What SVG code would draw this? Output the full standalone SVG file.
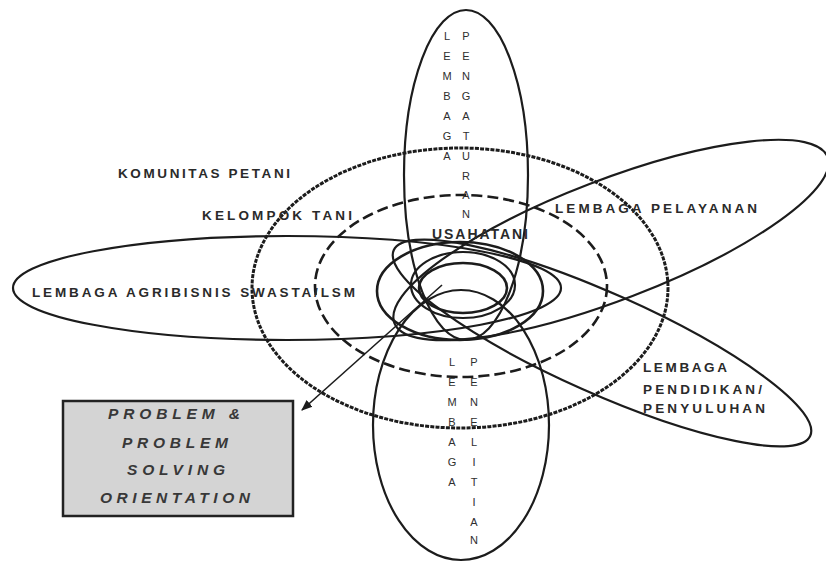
<svg xmlns="http://www.w3.org/2000/svg" width="826" height="562" viewBox="0 0 826 562">
<defs>
<style>
.ln{fill:none;stroke:#1c1c1c;stroke-width:2.2}
.dot{fill:none;stroke:#1c1c1c;stroke-width:3;stroke-dasharray:4 1.2}
.dash{fill:none;stroke:#1c1c1c;stroke-width:2.6;stroke-dasharray:11 5}
.lbl{font-family:"Liberation Sans",Arial,sans-serif;font-weight:bold;font-size:13.5px;fill:#2a2a2a}
.vt{font-family:"Liberation Sans",Arial,sans-serif;font-size:11px;fill:#2e2e2e;text-anchor:middle}
.bx{font-family:"Liberation Sans",Arial,sans-serif;font-weight:bold;font-style:italic;font-size:15.5px;fill:#383838}
</style>
<marker id="ah" viewBox="0 0 10 10" refX="9" refY="5" markerWidth="7" markerHeight="7" orient="auto">
<path d="M0,1 L10,5 L0,9 z" fill="#1c1c1c"/>
</marker>
</defs>
<rect width="826" height="562" fill="#fff"/>

<g id="komunitas-petani">
<ellipse class="dot" cx="460" cy="288" rx="208" ry="140"/>
<text class="lbl" x="118" y="178" textLength="172" lengthAdjust="spacing">KOMUNITAS PETANI</text>
</g>
<g id="kelompok-tani">
<ellipse class="dash" cx="461" cy="286" rx="146" ry="91"/>
<text class="lbl" x="202" y="220" textLength="150" lengthAdjust="spacing">KELOMPOK TANI</text>
</g>
<g id="lembaga-agribisnis">
<ellipse class="ln" cx="287" cy="288" rx="274" ry="52"/>
<text class="lbl" x="32" y="297" textLength="323" lengthAdjust="spacing">LEMBAGA AGRIBISNIS SWASTA/LSM</text>
</g>
<g id="lembaga-pelayanan">
<ellipse class="ln" cx="611" cy="240" rx="232" ry="60" transform="rotate(-21 611 240)"/>
<text class="lbl" x="555" y="213" textLength="202" lengthAdjust="spacing">LEMBAGA PELAYANAN</text>
</g>
<g id="lembaga-pendidikan">
<ellipse class="ln" cx="602" cy="343" rx="228" ry="50" transform="rotate(24 602 343)"/>
<text class="lbl" x="643" y="372" textLength="84" lengthAdjust="spacing">LEMBAGA</text>
<text class="lbl" x="643" y="394" textLength="119" lengthAdjust="spacing">PENDIDIKAN/</text>
<text class="lbl" x="643" y="413" textLength="122" lengthAdjust="spacing">PENYULUHAN</text>
</g>
<g id="lembaga-pengaturan">
<ellipse class="ln" cx="466" cy="175" rx="62" ry="165"/>
<text class="vt"><tspan x="447" y="40">L</tspan><tspan x="447" y="60">E</tspan><tspan x="447" y="80">M</tspan><tspan x="447" y="100">B</tspan><tspan x="447" y="120">A</tspan><tspan x="447" y="140">G</tspan><tspan x="447" y="160">A</tspan></text>
<text class="vt"><tspan x="466" y="40">P</tspan><tspan x="466" y="60">E</tspan><tspan x="466" y="80">N</tspan><tspan x="466" y="100">G</tspan><tspan x="466" y="120">A</tspan><tspan x="466" y="140">T</tspan><tspan x="466" y="160">U</tspan><tspan x="466" y="180">R</tspan><tspan x="466" y="199">A</tspan><tspan x="466" y="218">N</tspan></text>
</g>
<g id="lembaga-penelitian">
<ellipse class="ln" cx="461" cy="425" rx="88" ry="135"/>
<text class="vt"><tspan x="452" y="366">L</tspan><tspan x="452" y="386">E</tspan><tspan x="452" y="406">M</tspan><tspan x="452" y="426">B</tspan><tspan x="452" y="446">A</tspan><tspan x="452" y="466">G</tspan><tspan x="452" y="486">A</tspan></text>
<text class="vt"><tspan x="474" y="366">P</tspan><tspan x="474" y="386">E</tspan><tspan x="474" y="406">N</tspan><tspan x="474" y="426">E</tspan><tspan x="474" y="446">L</tspan><tspan x="474" y="466">I</tspan><tspan x="474" y="486">T</tspan><tspan x="474" y="506">I</tspan><tspan x="474" y="526">A</tspan><tspan x="474" y="544">N</tspan></text>
</g>
<g id="usahatani">
<ellipse class="ln" cx="460" cy="291" rx="83" ry="49" style="stroke-width:2.6"/>
<ellipse class="ln" cx="463" cy="285" rx="52" ry="33"/>
<ellipse class="ln" cx="463" cy="288" rx="44" ry="25" style="stroke-width:2.6"/>
<text class="lbl" x="432" y="239" textLength="96" lengthAdjust="spacing" style="font-size:14px">USAHATANI</text>
</g>
<g id="connectors">
<line class="ln" x1="442" y1="285" x2="302" y2="410" style="stroke-width:1.6" marker-end="url(#ah)"/>
</g>
<g id="problem-box">
<rect x="63" y="401" width="230" height="115" fill="#d4d4d4" stroke="#222" stroke-width="2.5"/>
<text class="bx" x="108" y="419" textLength="132" lengthAdjust="spacing">PROBLEM &amp;</text>
<text class="bx" x="122" y="448" textLength="106" lengthAdjust="spacing">PROBLEM</text>
<text class="bx" x="127" y="475" textLength="98" lengthAdjust="spacing">SOLVING</text>
<text class="bx" x="100" y="503" textLength="150" lengthAdjust="spacing">ORIENTATION</text>
</g>
</svg>
